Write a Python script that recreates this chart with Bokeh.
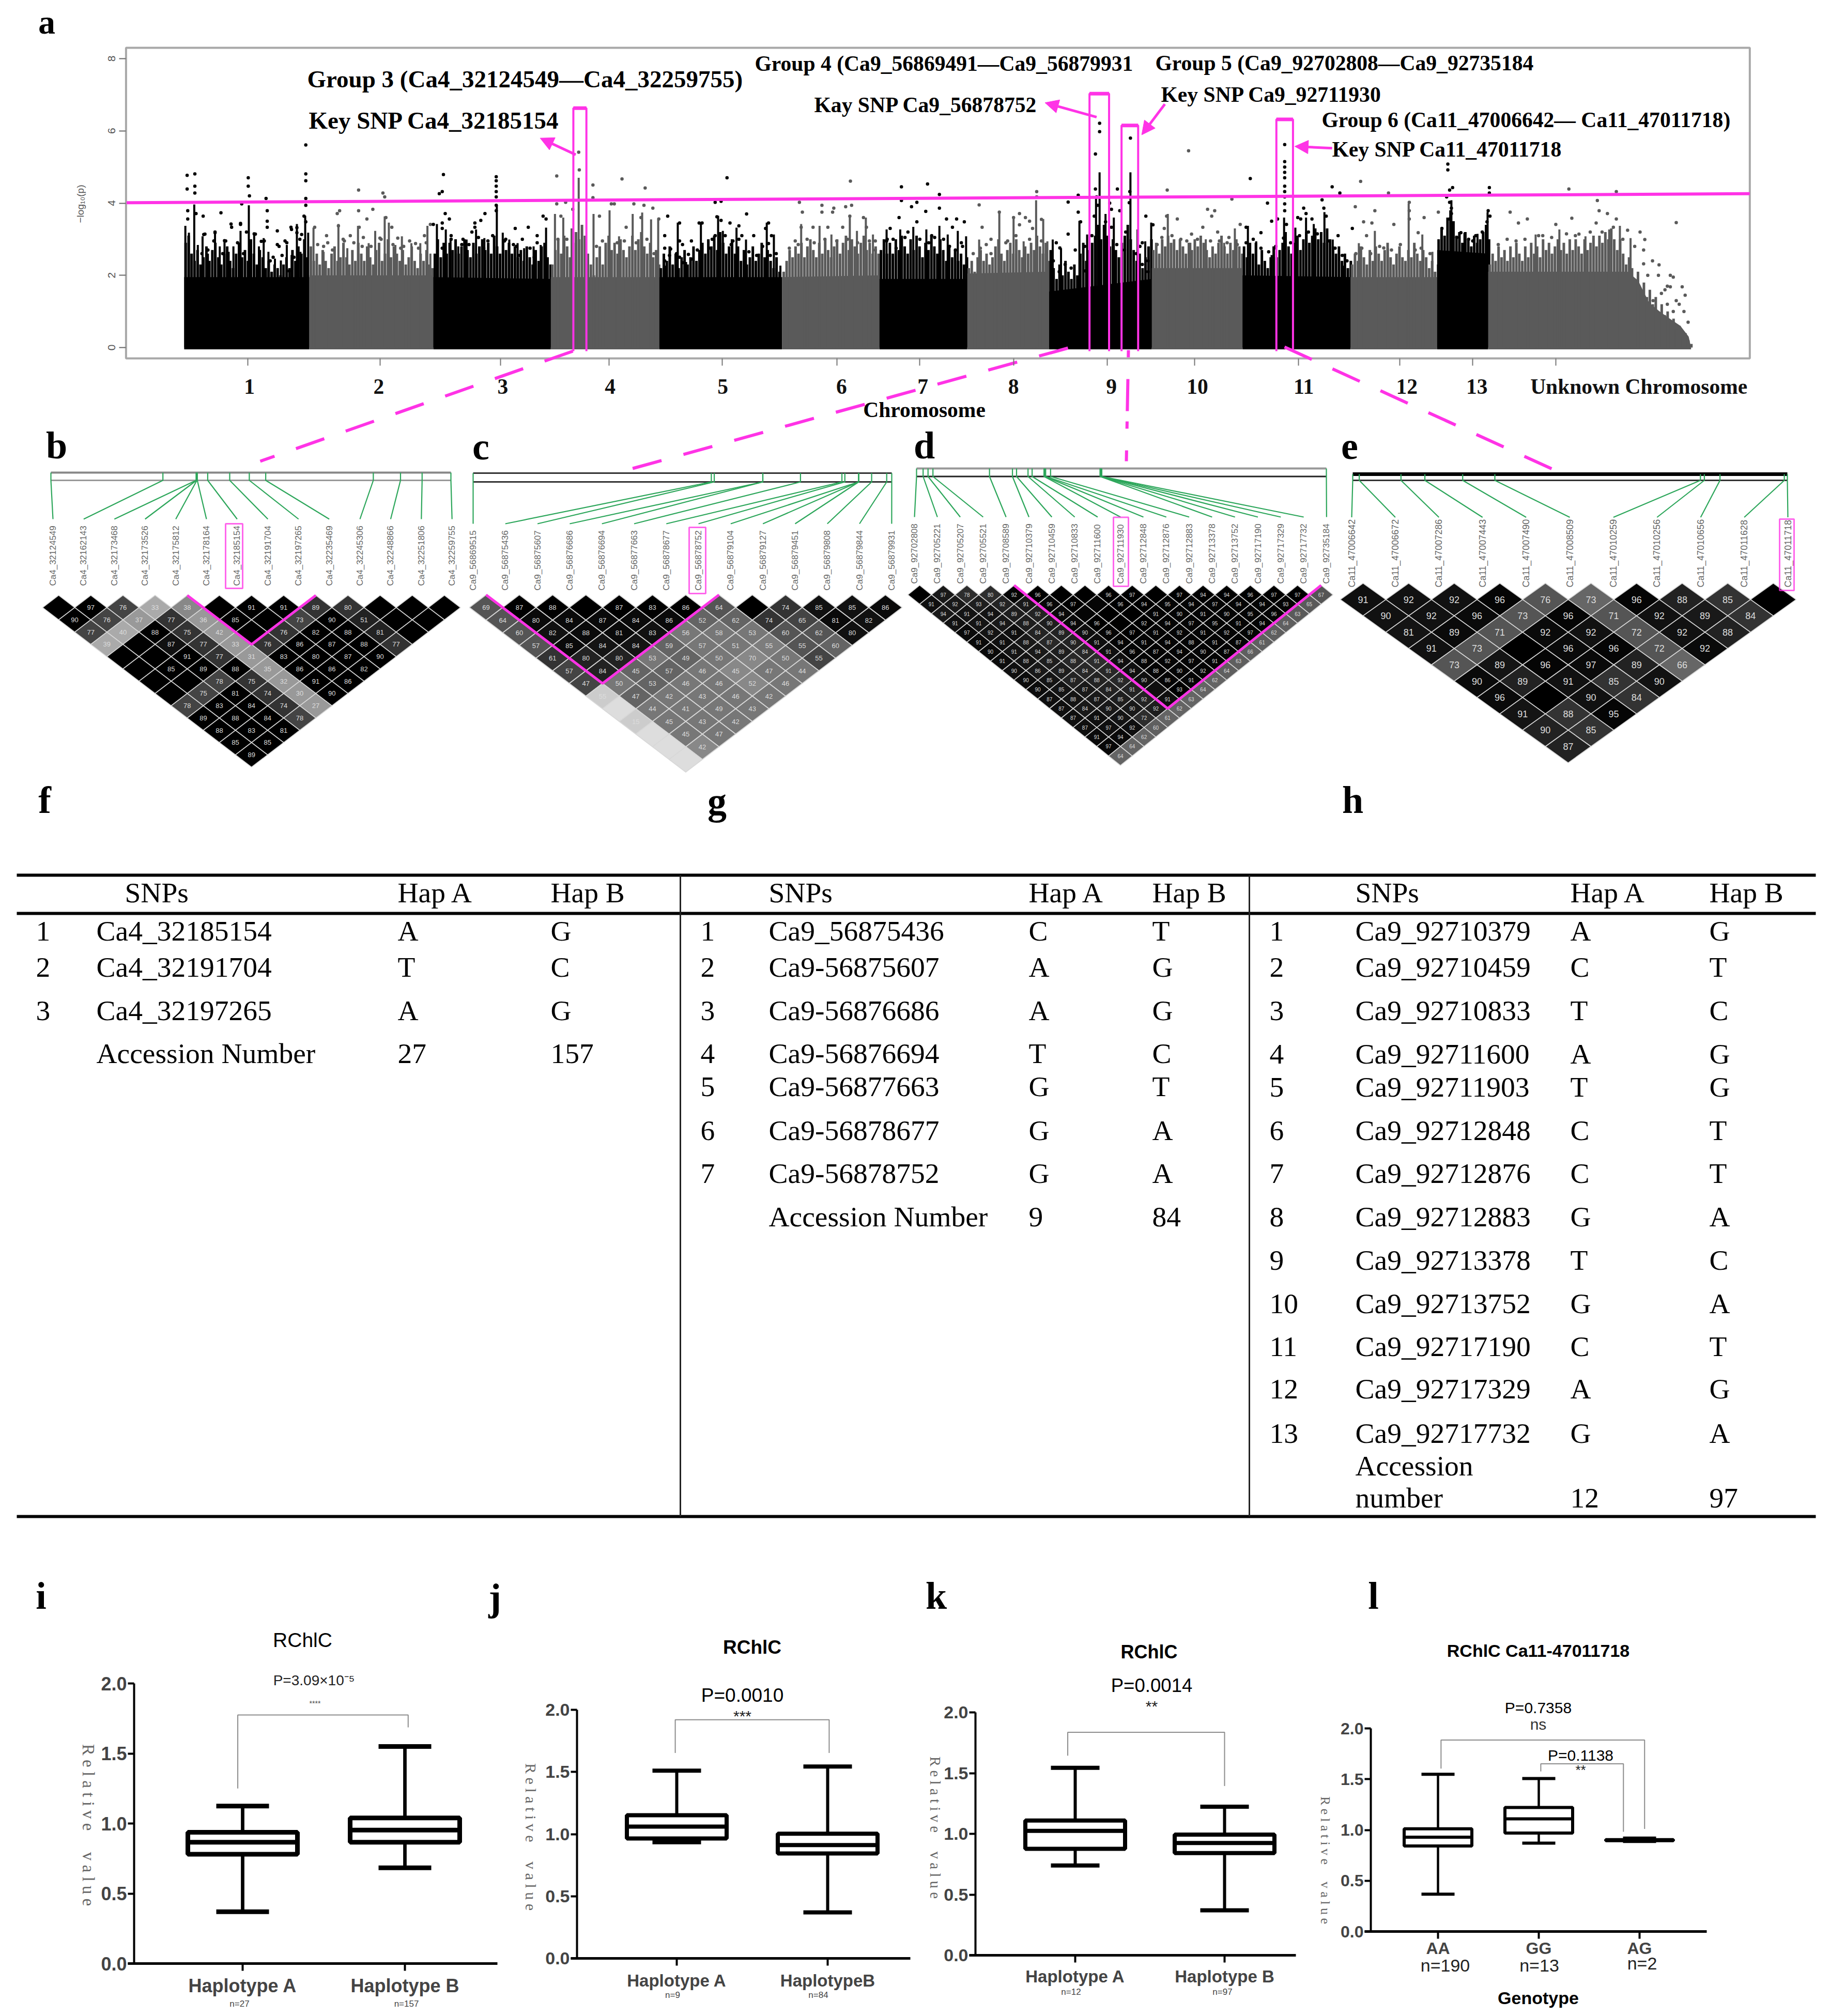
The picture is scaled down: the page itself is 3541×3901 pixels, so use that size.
from bokeh.plotting import figure
from bokeh.embed import file_html
from bokeh.resources import INLINE
from bokeh.core.properties import value
from bokeh.models import Range1d, LinearAxis, FixedTicker, NumeralTickFormatter, Arrow, NormalHead
import math

# ---------- Manhattan (a): cumulative position, -log10(p) ----------
chrom_names = ["1","2","3","4","5","6","7","8","9","10","11","12","13","Unknown Chromosome"]
chrom_ticks = [417,640,843,1026,1217,1410,1550,1708,1866,2013,2188,2359,2482,2622]
chrom_label_pos = [420,638,847,1028,1218,1418,1555,1708,1873,2018,2197,2371,2489,2762]
threshold_x = [212,2949]
threshold_y = [4.01,4.26]

# solid floor of each chromosome block
chr1_tx=[310,521];   chr1_ty=[1.95,1.95]
chr2_tx=[521,730];   chr2_ty=[2.0,2.0]
chr3_tx=[730,928];   chr3_ty=[1.95,1.9]
chr4_tx=[928,1111];  chr4_ty=[1.95,1.95]
chr5_tx=[1111,1318]; chr5_ty=[1.95,1.95]
chr6_tx=[1318,1482]; chr6_ty=[1.95,2.0]
chr7_tx=[1482,1630]; chr7_ty=[1.9,1.9]
chr8_tx=[1630,1768]; chr8_ty=[2.05,2.1]
chr9_tx=[1768,1941]; chr9_ty=[1.55,1.9]
chr10_tx=[1941,2094];chr10_ty=[2.2,2.2]
chr11_tx=[2094,2276];chr11_ty=[2.0,1.95]
chr12_tx=[2276,2422];chr12_ty=[1.95,1.95]
chr13_tx=[2422,2508];chr13_ty=[2.7,2.6]
chrU_tx=[2508,2743,2761,2779,2797,2814,2832,2846,2850]
chrU_ty=[2.1,2.1,1.85,1.25,1.0,.8,.6,.3,0]

# upper fringe of each block: one height per 5-position bin
chr1_fy=[2.9,3.1,2.6,2.4,2.7,2.3,2.5,2.8,2.4,2.7,2.9,2.5,2.3,2.6,2.8,2.4,2.2,2.6,2.9,2.5,2.7,2.4,3.0,2.6,2.3,2.7,2.5,2.2,2.4,2.1,2.3,2.2,2.0,2.3,2.5,2.2,2.7,2.4,2.8,2.6,3.0,2.5]
chr2_fy=[2.8,2.4,2.6,2.3,2.7,2.4,2.2,2.6,2.8,2.4,2.5,2.9,2.5,2.3,2.7,2.4,2.9,2.6,2.4,2.8,2.5,2.3,2.7,2.9,2.4,2.6,3.0,2.5,2.8,2.6,2.4,2.7,2.3,2.5,2.8,2.4,2.2,2.6,2.4,2.7,2.3,2.2]
chr3_fy=[2.6,3.0,2.5,2.9,2.6,2.9,2.7,3.0,2.6,2.8,3.0,2.7,2.5,2.9,2.6,2.8,3.0,2.7,2.9,2.6,3.1,2.8,2.6,3.0,2.7,2.9,2.6,2.8,2.5,2.7,2.4,2.8,2.5,2.3,2.7,2.4,2.8,2.9,2.5,2.3]
chr4_fy=[2.3,2.7,3.0,2.6,3.1,2.8,2.5,2.9,3.2,3.0,3.4,3.1,2.6,2.3,2.0,2.5,2.8,2.3,2.9,3.1,2.7,2.9,2.6,3.0,2.7,2.5,2.8,3.1,2.7,3.0,3.2,2.8,2.6,2.9,2.5,2.7,2.3]
chr5_fy=[2.2,2.6,2.4,2.8,2.3,2.6,2.2,2.5,2.7,2.3,2.5,2.8,2.4,2.7,2.9,2.6,3.0,2.8,3.1,2.7,3.2,2.9,2.6,2.8,3.0,2.6,2.8,2.4,2.7,2.3,2.5,2.8,2.4,2.6,2.9,2.5,2.7,2.4,2.2,2.5,2.1]
chr6_fy=[2.1,2.4,2.7,2.5,2.8,2.6,2.9,2.5,2.8,3.0,2.7,2.5,2.9,2.6,3.0,2.7,2.5,2.8,3.0,2.6,2.9,3.1,2.7,3.0,2.8,2.6,2.9,3.1,2.7,2.9,2.6,2.8,2.6]
chr7_fy=[2.7,3.0,2.6,2.9,2.6,3.0,2.7,3.1,2.8,2.6,3.0,2.7,3.1,2.8,2.5,2.9,2.7,3.1,2.8,2.6,3.0,2.7,2.4,2.8,2.5,2.7,2.4,2.6,2.3,2.5]
chr8_fy=[2.2,2.4,2.1,2.5,2.7,2.4,2.6,2.3,2.5,2.8,3.0,2.6,2.4,2.7,2.9,2.6,3.0,2.7,2.5,2.8,2.6,2.9,2.7,3.1,2.8,2.6,2.9,2.4]
chr9_fy=[2.7,2.2,1.9,2.3,2.0,2.4,2.1,1.9,2.3,2.0,2.6,2.9,2.4,2.7,2.9,3.1,3.4,3.0,3.4,3.1,2.8,3.0,2.7,2.5,2.9,3.1,3.4,3.0,2.7,2.4,2.6,2.2,2.5,2.8,3.0]
chr10_fy=[2.7,2.9,2.6,3.0,2.8,3.1,2.9,3.0,2.7,3.0,2.8,2.6,2.9,2.7,3.0,2.8,3.1,2.9,2.7,2.5,2.8,2.6,2.9,3.1,2.8,2.6,2.9,2.7,3.0,2.8,2.6]
chr11_fy=[2.8,2.5,2.9,2.6,2.9,2.3,2.7,2.4,2.2,2.5,2.8,2.5,2.7,2.9,3.2,2.8,2.6,2.9,3.1,2.7,3.0,3.2,2.9,3.1,3.3,3.0,3.2,2.9,3.3,3.0,2.8,2.6,2.8,2.4,2.6,2.2,2.4]
chr12_fy=[2.3,2.6,2.4,2.8,2.5,2.3,2.7,2.4,2.8,2.6,2.4,2.7,2.9,2.5,2.3,2.6,2.8,2.5,2.4,2.7,2.5,2.9,2.6,2.4,2.7,2.5,2.2,2.4,2.1,2.3]
chr13_fy=[3.0,3.3,3.1,3.6,3.8,3.5,3.1,3.2,2.9,3.2,3.0,2.8,3.1,2.9,3.0,3.2,3.4,3.0]
chrU_fy=[2.3,2.6,2.4,2.8,2.5,2.7,2.4,2.8,2.5,2.9,2.6,2.4,2.8,2.5,2.9,2.6,2.8,2.5,3.0,2.7,2.9,2.6,2.8,3.0,2.7,2.9,2.6,3.0,2.7,3.0,2.8,2.6,3.0,2.7,2.9,3.1,2.8,3.1,2.9,3.2,3.0,3.3,3.0,2.7,3.0,2.6,2.3,2.5,2.2,1.9,2.1,1.6,1.8,1.4,1.6,1.2,1.4,1.0,1.2,.9,1.0,.7,.8,.5,.6,.3,.4,.2,.1]

chr1_sx=[312,318,327,333,341,350,362,370,378,385,393,405,419,428,436,444,452,463,473,483,491,500,506,514,519]
chr1_sy=[3.37,3.18,3.96,2.84,3.08,2.6,3.23,2.8,2.99,2.65,2.8,3.23,3.94,3.18,2.8,3.03,2.65,2.46,2.41,2.84,2.56,3.42,2.65,3.65,3.18]
chr1_px=[315,328,315,328,328,316,316,330,342,372,407,418,418,420,448,450,450,515,515,515,515,515,512,515,405,390,450,445,490,500,480,345,362,360,380,430,470,487,340,375,400,415,460,505,343,362,378,389,405,428,440,467,467,483,491,500,508,350,410,455,475,495]
chr1_py=[4.77,4.81,4.39,4.47,4.28,3.79,3.56,3.71,3.64,3.73,3.98,4.70,4.47,4.20,4.13,3.79,3.50,5.61,4.81,4.62,4.13,3.94,3.64,3.48,3.41,3.33,3.33,2.95,3.33,3.18,2.95,3.14,3.18,2.95,2.95,3.14,2.80,2.12,2.6,2.6,2.9,3.2,2.5,3.0,3.13,3.2,2.96,3.42,3.44,3.15,2.94,3.23,2.85,2.9,3.27,3.32,3.13,2.7,2.6,2.4,2.55,2.5]
chr2_sx=[528,545,570,585,603,621,632,648,655,666,677,693,708,720,725]
chr2_sy=[3.32,2.65,3.42,2.75,3.37,2.89,3.23,3.63,3.46,2.84,3.08,2.89,2.89,3.37,2.6]
chr2_px=[604,645,648,572,568,604,628,650,618,570,605,590,640,660,700,715,725,545,530,680,610,580,550,670,535,552,560,578,596,612,625,642,662,675,690,705,718]
chr2_py=[4.36,4.28,4.17,3.79,3.71,3.79,3.83,3.6,3.56,3.37,3.33,3.1,3.03,3.33,2.88,3.1,3.41,2.8,3.33,2.8,2.8,2.95,3.1,3.03,2.85,2.9,2.7,3.0,2.9,3.05,2.8,3.0,2.85,2.75,2.95,2.75,2.9]
chr3_sx=[736,751,759,772,786,802,816,837,847,858,872,883,899,911,920]
chr3_sy=[3.42,3.27,3.03,2.8,2.99,3.27,3.03,3.94,3.18,2.99,2.89,2.75,2.8,2.84,3.32]
chr3_px=[747,745,740,836,836,836,836,836,836,836,817,750,757,745,800,810,800,868,890,915,920,905,760,780,850,870,730,745,760,778,795,806,822,830,852,865,880,893,905,745,790,815,875,900]
chr3_py=[4.79,4.32,4.26,4.73,4.62,4.47,4.32,4.17,3.94,3.79,3.71,3.71,3.56,3.45,3.45,3.52,3.33,3.3,3.33,3.64,3.56,3.1,3.1,3.0,2.95,2.8,3.41,3.3,3.0,2.85,3.2,3.05,2.95,3.1,3.0,2.85,3.0,2.75,2.9,2.75,2.85,2.75,2.55,2.5]
chr4_sx=[935,949,963,975,1000,1027,1043,1066,1082,1097,1109]
chr4_sy=[3.7,3.6,3.3,4.7,3.7,3.8,3.08,3.7,3.74,3.55,3.55]
chr4_px=[938,975,976,999,999,1048,1087,938,953,1030,1068,1085,1100,1035,1010,1080,1110,1055,945,965,940,955,1005,1015,1040,1052,1072,1090,1102]
chr4_py=[4.75,5.41,4.92,4.5,4.15,4.67,4.42,3.98,4.02,3.98,3.98,3.94,3.86,3.98,3.64,3.6,3.56,3.33,3.64,3.83,3.0,3.0,2.8,2.95,2.9,2.95,2.9,3.0,2.6]
chr5_sx=[1121,1142,1156,1181,1210,1218,1241,1257,1292,1304,1315]
chr5_sy=[2.27,3.46,2.37,3.46,3.65,3.23,3.32,2.99,3.46,3.13,2.27]
chr5_px=[1225,1205,1215,1258,1125,1208,1215,1230,1178,1183,1145,1245,1295,1290,1120,1145,1205,1250,1300,1295,1165,1130,1160,1235,1270,1150,1120,1120,1128,1140,1150,1165,1175,1195,1200,1222,1232,1245,1262,1275,1285,1298,1308,1120,1145]
chr5_py=[4.70,4.02,4.05,3.70,3.64,3.62,3.52,3.45,3.45,3.45,3.45,3.37,3.45,3.3,3.1,2.95,3.1,3.1,3.1,2.88,2.95,2.73,2.58,2.95,3.1,2.35,2.2,2.75,2.55,2.6,2.85,2.45,2.7,2.75,3.0,3.1,2.85,3.0,2.65,2.55,2.8,2.55,2.6,2.4,2.5]
chr6_sx=[1350,1381,1401,1432,1444,1459,1471]
chr6_sy=[3.42,3.37,3.13,3.65,3.23,3.6,3.13]
chr6_px=[1433,1347,1352,1385,1405,1425,1435,1385,1403,1432,1455,1350,1370,1395,1420,1460,1340,1475,1330,1345,1360,1372,1390,1410,1428,1445,1465,1475]
chr6_py=[4.61,4.02,3.75,3.94,3.86,3.9,3.94,3.75,3.75,3.64,3.6,3.33,3.33,3.33,3.33,3.33,2.95,2.95,2.75,2.85,3.0,2.9,3.0,2.95,3.0,2.9,2.95,2.7]
chr7_sx=[1494,1517,1539,1561,1583,1597,1614,1628]
chr7_sy=[3.27,3.27,3.34,3.27,3.37,3.13,3.23,3.08]
chr7_px=[1519,1519,1563,1545,1536,1560,1515,1545,1583,1583,1595,1605,1612,1625,1500,1530,1570,1590,1620,1495,1494,1505,1510,1525,1550,1565,1575,1600,1610,1622]
chr7_py=[4.45,4.07,4.53,4.02,3.90,3.77,3.60,3.48,4.24,3.86,3.56,3.33,3.56,3.48,3.3,3.2,3.1,3.0,2.9,3.0,2.95,3.0,2.75,3.05,3.0,2.9,3.05,2.8,2.7,2.8]
chr8_sx=[1650,1684,1708,1725,1746,1758,1765]
chr8_sy=[2.99,3.75,3.56,2.94,4.08,3.56,2.94]
chr8_px=[1650,1747,1747,1684,1718,1708,1755,1718,1655,1728,1670,1698,1740,1735,1640,1652,1662,1670,1695,1712,1735,1755]
chr8_py=[3.95,4.32,4.17,3.75,3.71,3.6,3.55,3.4,3.33,3.6,3.0,2.95,3.3,3.5,2.6,2.75,2.85,2.6,2.9,3.1,3.0,2.95]
chr9_sx=[1774,1788,1819,1832,1847,1853,1863,1877,1905,1917,1930,1940]
chr9_sy=[2.99,2.75,3.51,3.13,4.13,4.85,3.7,3.6,4.85,3.27,2.94,3.46]
chr9_px=[1853,1853,1846,1905,1883,1817,1800,1873,1887,1817,1821,1931,1800,1943,1863,1897,1846,1848,1850,1844,1904,1903,1786,1921,1935,1829,1873,1870,1775,1785,1795,1805,1812,1828,1840,1868,1882,1895,1915,1925,1935,1780,1925]
chr9_py=[6.21,5.98,5.36,5.80,4.39,4.22,4.03,3.83,3.79,3.75,3.48,3.64,3.14,3.4,3.48,3.2,4.39,4.17,3.94,3.64,4.32,4.01,2.76,2.8,2.4,2.12,3.33,4.0,2.4,2.1,2.3,2.2,2.7,2.8,3.1,2.9,2.85,2.7,2.6,2.3,2.1,2.9,2.9]
chr10_sx=[1968,2006,2032,2063,2081]
chr10_sy=[3.7,2.9,3.0,2.9,3.3]
chr10_px=[2003,1967,2076,2035,2047,1966,2027,1984,2042,2090,2008,2052,2071,1962,1950,1958,1975,1990,2000,2018,2040,2055,2068,2085]
chr10_py=[5.45,4.36,4.11,3.83,3.79,3.64,3.33,3.56,3.64,3.41,3.14,3.2,3.05,3.3,2.85,3.05,3.1,3.0,2.95,3.0,2.95,2.95,2.9,2.85]
chr11_sx=[2103,2117,2143,2164,2183,2201,2214,2232,2246,2263]
chr11_sy=[3.37,2.94,2.56,3.6,3.32,3.6,3.42,3.75,2.99,2.27]
chr11_px=[2165,2165,2165,2165,2165,2165,2165,2165,2165,2165,2107,2245,2258,2136,2228,2231,2197,2201,2235,2187,2143,2153,2211,2192,2100,2125,2255,2279,2168,2163,2148,2100,2112,2125,2138,2150,2175,2190,2205,2220,2240,2250,2262,2270,2105]
chr11_py=[5.62,5.15,5.0,4.85,4.7,4.47,4.32,4.17,3.98,3.79,4.68,4.45,4.28,4.0,4.09,3.86,3.86,3.71,3.64,3.6,3.5,3.56,3.56,3.56,3.33,3.18,3.1,3.3,3.41,3.03,2.76,2.9,3.0,2.75,2.65,2.8,2.9,3.1,3.2,3.15,2.95,2.75,2.55,2.4,2.6]
chr12_sx=[2290,2317,2339,2374,2397,2414]
chr12_sy=[2.89,3.23,2.75,3.99,3.13,2.65]
chr12_px=[2293,2340,2284,2317,2375,2375,2298,2312,2349,2400,2375,2424,2332,2390,2303,2285,2295,2310,2325,2345,2360,2385,2395,2410]
chr12_py=[4.6,4.28,3.9,3.79,4.02,3.79,3.48,3.45,3.41,3.6,3.56,3.75,2.76,3.18,3.1,2.6,2.75,2.6,2.8,2.7,2.85,2.7,2.75,2.6]
chr13_sx=[2446,2468,2490,2507]
chr13_sy=[4.08,3.18,3.15,3.75]
chr13_px=[2440,2440,2443,2448,2438,2443,2446,2446,2510,2510,2508,2511,2506,2443,2462,2487,2430,2455,2475,2482,2498]
chr13_py=[5.08,4.92,4.36,4.43,4.17,4.02,3.86,3.71,4.43,4.28,3.79,3.64,3.48,3.56,3.18,3.1,3.3,3.05,3.0,2.95,3.2]
chrU_sx=[2588,2628,2672,2712,2730,2748]
chrU_sy=[3.13,3.27,3.08,3.27,3.37,3.03]
chrU_px=[2644,2724,2692,2695,2709,2724,2649,2545,2825,2559,2574,2622,2690,2764,2772,2796,2770,2815,2820,2835,2815,2840,2777,2806,2825,2786,2593,2661,2719,2743,2525,2540,2555,2570,2600,2615,2640,2655,2680,2700,2735,2755,2770,2785,2795,2810,2800,2830,2838,2845,2810,2820]
chrU_py=[4.39,4.32,4.07,3.79,3.71,3.56,3.58,3.75,3.46,3.45,3.56,3.41,3.45,3.2,2.99,2.29,2.32,2.0,1.95,1.68,1.68,1.45,2.0,1.6,1.3,1.3,3.1,3.14,3.33,3.25,2.85,3.0,2.95,3.0,3.1,3.05,3.15,3.1,3.2,3.2,3.0,2.8,2.7,2.4,2.0,1.7,1.5,1.2,1.0,.7,1.2,1.0]

peak_box_left=[966,1836,1890,2151]
peak_box_right=[988,1869,1918,2179]
peak_box_top=[6.63,7.03,6.15,6.32]

# ---------- LD plots (b, c, d, e) ----------
b_labels=["Ca4_32124549","Ca4_32162143","Ca4_32173468","Ca4_32173526","Ca4_32175812","Ca4_32178164","Ca4_32185154","Ca4_32191704","Ca4_32197265","Ca4_32235469","Ca4_32245306","Ca4_32248866","Ca4_32251806","Ca4_32259755"]
b_phys=[0,.280,.363,.364,.365,.366,.392,.447,.496,.537,.806,.874,.928,1]
b_gray=[[0,0,68,170,136,0,0,0,51,51,0,0,0],[0,68,153,51,153,0,0,68,0,34,0,0],[68,170,0,51,153,0,51,0,0,34,0],[170,0,17,51,153,51,0,0,0,51],[0,0,0,51,153,0,0,0,0],[0,0,0,0,153,0,0,0],[0,0,68,51,153,0,0],[0,68,0,51,153,0],[68,0,0,51,153],[0,0,0,68],[0,0,0],[0,0],[0]]
b_val=[[0,97,76,33,38,0,91,91,89,80,0,0,0],[90,76,37,77,36,85,0,73,90,51,0,0],[77,40,88,75,42,0,76,82,88,81,0],[39,0,87,77,33,76,86,87,88,77],[0,0,91,77,31,83,80,87,90],[0,85,89,88,35,86,86,82],[0,0,78,75,32,91,86],[0,75,81,74,30,90],[78,83,84,74,27],[89,88,84,78],[88,83,81],[85,85],[89]]

c_labels=["Ca9_56869515","Ca9_56875436","Ca9_56875607","Ca9_56876686","Ca9_56876694","Ca9_56877663","Ca9_56878677","Ca9_56878752","Ca9_56879104","Ca9_56879127","Ca9_56879451","Ca9_56879808","Ca9_56879844","Ca9_56879931"]
c_phys=[0,.569,.576,.692,.692,.782,.881,.888,.921,.921,.921,.952,.988,1]
c_gray=[[85,0,0,0,0,0,0,85,0,51,17,17,10],[85,10,10,10,10,10,100,100,51,68,10,17],[85,17,10,10,17,119,119,119,85,85,17],[85,10,20,20,100,119,119,125,85,100],[51,34,34,119,100,119,136,119,68],[68,34,100,100,119,136,119,119],[68,119,100,119,119,136,119],[204,100,119,119,119,119],[221,119,119,119,119],[204,119,119,119],[221,119,119],[221,136],[221]]
c_val=[[69,87,88,0,87,83,86,64,0,74,85,85,86],[64,80,84,87,84,86,52,62,74,65,81,82],[60,82,88,81,83,56,58,53,60,62,80],[57,85,84,84,59,57,51,55,55,60],[61,80,80,53,49,50,70,50,55],[57,84,45,57,46,45,47,44],[47,50,53,46,46,52,46],[55,47,42,43,46,42],[19,44,41,49,43],[15,45,43,42],[7,45,47],[14,42],[40]]

d_labels=["Ca9_92702808","Ca9_92705221","Ca9_92705207","Ca9_92705521","Ca9_92708589","Ca9_92710379","Ca9_92710459","Ca9_92710833","Ca9_92711600","Ca9_92711930","Ca9_92712848","Ca9_92712876","Ca9_92712883","Ca9_92713378","Ca9_92713752","Ca9_92717190","Ca9_92717329","Ca9_92717732","Ca9_92735184"]
d_phys=[0,.016,.028,.040,.178,.234,.244,.272,.282,.311,.313,.315,.327,.448,.448,.450,.450,.452,1]
d_gray=[
[0,25,45,45,5,0,0,0,0,0,0,0,0,0,0,0,0,85],
[15,25,30,35,25,8,0,5,0,0,5,5,5,5,5,5,90],
[25,20,20,30,35,10,5,0,0,5,5,5,5,5,5,90],
[18,20,25,30,30,10,0,0,0,5,5,5,5,5,95],
[10,20,15,35,35,15,5,0,5,5,5,5,5,95],
[10,15,25,40,35,15,5,5,5,5,5,5,95],
[10,20,25,30,40,15,5,5,5,5,5,95],
[12,20,30,40,45,15,5,5,5,5,95],
[15,25,30,40,40,15,5,5,5,95],
[12,20,35,35,40,15,5,5,100],
[12,20,25,35,35,15,0,100],
[15,20,25,30,35,15,100],
[15,25,25,25,30,100],
[15,15,20,45,100],
[15,15,15,95],
[10,10,100],
[8,100],
[100]]
d_val=[
[0,97,78,80,92,96,0,0,96,97,0,97,94,94,96,97,97,67],
[91,92,93,92,91,96,97,0,96,94,95,94,97,94,94,93,65],
[94,91,94,89,92,94,0,0,0,91,90,91,90,95,96,63],
[91,91,94,88,90,94,96,0,92,94,97,95,91,94,64],
[97,92,91,84,89,90,96,97,91,92,91,92,97,62],
[91,91,88,87,90,91,94,91,94,88,91,87,61],
[90,91,94,89,84,91,96,87,94,90,87,66],
[91,88,85,88,91,94,88,92,97,91,63],
[90,86,89,84,91,94,88,90,92,64],
[90,85,87,88,92,90,86,91,62],
[90,85,87,84,91,0,93,64],
[87,88,87,85,92,91,63],
[87,84,90,90,92,62],
[87,91,90,72,61],
[87,97,92,60],
[91,94,62],
[97,64],
[64]]

e_labels=["Ca11_47006642","Ca11_47006672","Ca11_47007286","Ca11_47007443","Ca11_47007490","Ca11_47008509","Ca11_47010259","Ca11_47010256","Ca11_47010656","Ca11_47011628","Ca11_47011718"]
e_phys=[0,.015,.111,.166,.253,.327,.800,.809,.845,.993,1]
e_gray=[[15,17,17,5,85,102,5,34,51,0],[17,17,10,85,5,85,17,25,51],[20,10,85,10,17,85,17,34],[17,85,0,10,5,85,10],[85,20,5,10,34,102],[10,34,17,51,17],[10,0,17,51],[20,51,5],[34,51],[34]]
e_val=[[91,92,92,96,76,73,96,88,85,0],[90,92,96,73,96,71,92,89,84],[81,89,71,92,92,72,92,88],[91,73,0,96,96,72,92],[73,89,96,97,89,66],[90,89,91,85,90],[96,0,90,84],[91,88,95],[90,85],[87]]

# ---------- Haplotype tables (f, g, h) ----------
table_header=["SNPs","Hap A","Hap B"]
f_snps=["Ca4_32185154","Ca4_32191704","Ca4_32197265","Accession Number"]
f_no=["1","2","3"]
f_a=["A","T","A","27"]
f_b=["G","C","G","157"]
g_snps=["Ca9_56875436","Ca9-56875607","Ca9-56876686","Ca9-56876694","Ca9-56877663","Ca9-56878677","Ca9-56878752","Accession Number"]
g_no=["1","2","3","4","5","6","7"]
g_a=["C","A","A","T","G","G","G","9"]
g_b=["T","G","G","C","T","A","A","84"]
h_snps=["Ca9_92710379","Ca9_92710459","Ca9_92710833","Ca9_92711600","Ca9_92711903","Ca9_92712848","Ca9_92712876","Ca9_92712883","Ca9_92713378","Ca9_92713752","Ca9_92717190","Ca9_92717329","Ca9_92717732","Accession","number"]
h_no=["1","2","3","4","5","6","7","8","9","10","11","12","13"]
h_a=["A","C","T","A","T","C","C","G","T","G","C","A","G","","12"]
h_b=["G","T","C","G","G","T","T","A","C","A","T","G","A","","97"]

# ---------- Box plots (i, j, k, l): whisker top, Q3, median, Q1, whisker low ----------
i_names=["Haplotype A","Haplotype B"]
i_top=[1.125,1.55]; i_q3=[.937,1.04]; i_med=[.866,.953]; i_q1=[.78,.866]; i_low=[.37,.684]
j_names=["Haplotype A","HaplotypeB"]
j_top=[1.51,1.544]; j_q3=[1.152,1.003]; j_med=[1.06,.912]; j_q1=[.965,.844]; j_low=[.935,.37]
k_names=["Haplotype A","Haplotype B"]
k_top=[1.544,1.223]; k_q3=[1.11,.994]; k_med=[1.025,.924]; k_q1=[.877,.842]; k_low=[.739,.37]
l_names=["AA","GG","AG"]
l_top=[1.548,1.506,.92]; l_q3=[1.012,1.222,.905]; l_med=[.929,1.11,.9]; l_q1=[.842,.97,.895]; l_low=[.368,.87,.887]

MAG="#ff33e6"; SERIF="Liberation Serif"; SANS="Liberation Sans"; GREEN="#2ca65a"
PX0,PX1,PY0,PY1=0,3525,0,3885

p=figure(width=PX1-PX0,height=PY1-PY0,x_range=Range1d(PX0,PX1),y_range=Range1d(PY1,PY0),
         x_axis_type=None,y_axis_type=None,toolbar_location=None,output_backend="svg",
         min_border=0,outline_line_color=None)
p.grid.visible=False

def xrange_(name,v0,px0,v1,px1):
    s=(v1-v0)/(px1-px0)
    p.extra_x_ranges[name]=Range1d(v0+(PX0-px0)*s,v0+(PX1-px0)*s)
def yrange_(name,v0,px0,v1,px1):
    s=(v1-v0)/(px1-px0)
    p.extra_y_ranges[name]=Range1d(v0+(PY1-px0)*s,v0+(PY0-px0)*s)

def txt(xs,ys,texts,size,font=SERIF,style="normal",color="black",align="left",baseline="middle",angle=0,xr="default",yr="default"):
    p.text(x=xs,y=ys,text=texts,text_font=value(font),text_font_size=f"{size}px",text_font_style=style,
           text_color=color,text_align=align,text_baseline=baseline,angle=angle,x_range_name=xr,y_range_name=yr)

# ===== a: Manhattan =====
xrange_("mx",0,0,1568,1800); yrange_("my",0,672,8,113)
M=dict(x_range_name="mx",y_range_name="my")
p.quad(left=[212],right=[2949],bottom=[-0.3],top=[8.3],fill_color=None,line_color="#a8a8a8",line_width=4,**M)
chroms=[(chr1_tx,chr1_ty,chr1_fy,chr1_sx,chr1_sy,chr1_px,chr1_py),(chr2_tx,chr2_ty,chr2_fy,chr2_sx,chr2_sy,chr2_px,chr2_py),(chr3_tx,chr3_ty,chr3_fy,chr3_sx,chr3_sy,chr3_px,chr3_py),
        (chr4_tx,chr4_ty,chr4_fy,chr4_sx,chr4_sy,chr4_px,chr4_py),(chr5_tx,chr5_ty,chr5_fy,chr5_sx,chr5_sy,chr5_px,chr5_py),(chr6_tx,chr6_ty,chr6_fy,chr6_sx,chr6_sy,chr6_px,chr6_py),
        (chr7_tx,chr7_ty,chr7_fy,chr7_sx,chr7_sy,chr7_px,chr7_py),(chr8_tx,chr8_ty,chr8_fy,chr8_sx,chr8_sy,chr8_px,chr8_py),(chr9_tx,chr9_ty,chr9_fy,chr9_sx,chr9_sy,chr9_px,chr9_py),
        (chr10_tx,chr10_ty,chr10_fy,chr10_sx,chr10_sy,chr10_px,chr10_py),(chr11_tx,chr11_ty,chr11_fy,chr11_sx,chr11_sy,chr11_px,chr11_py),(chr12_tx,chr12_ty,chr12_fy,chr12_sx,chr12_sy,chr12_px,chr12_py),
        (chr13_tx,chr13_ty,chr13_fy,chr13_sx,chr13_sy,chr13_px,chr13_py),(chrU_tx,chrU_ty,chrU_fy,chrU_sx,chrU_sy,chrU_px,chrU_py)]
for idx,(tx,ty,fy_,sx,sy,px_,py_) in enumerate(chroms):
    col="#000000" if idx in (0,2,4,6,8,10,12) else "#5a5a5a"
    p.varea(x=tx,y1=[-0.05]*len(tx),y2=ty,fill_color=col,**M)
    fx=[tx[0]+2.5+5*k for k in range(len(fy_))]
    p.segment(x0=fx,y0=[0]*len(fx),x1=fx,y1=fy_,line_color=col,line_width=5,**M)
    p.segment(x0=sx,y0=[0]*len(sx),x1=sx,y1=sy,line_color=col,line_width=4,**M)
    p.scatter(x=px_,y=py_,size=6.5,marker="circle",fill_color=col,line_color=None,**M)
p.line(x=threshold_x,y=threshold_y,line_color=MAG,line_width=6,**M)
for l,r,t in zip(peak_box_left,peak_box_right,peak_box_top):
    p.multi_line(xs=[[l,l,r,r]],ys=[[-0.1,t,t,-0.1]],line_color=MAG,line_width=4,**M)
    p.line(x=[l,r],y=[t,t],line_color=MAG,line_width=7,**M)
for xs,ys,xe,ye in [(970,5.34,910,5.80),(1848,6.38,1761,6.78),(1963,6.74,1924,5.89),(2245,5.52,2182,5.57)]:
    p.add_layout(Arrow(end=NormalHead(size=26,fill_color=MAG,line_color=MAG),x_start=xs,y_start=ys,x_end=xe,y_end=ye,
                       line_color=MAG,line_width=5,x_range_name="mx",y_range_name="my"))
ax=LinearAxis(fixed_location=212,bounds=(0,8),ticker=FixedTicker(ticks=[0,2,4,6,8]),major_tick_out=13,major_tick_in=0,minor_tick_line_color=None,
              major_tick_line_color="#666666",major_tick_line_width=2,axis_line_color="#a8a8a8",axis_line_width=3,
              major_label_orientation="vertical",major_label_text_font=SANS,major_label_text_font_size="21px",major_label_text_color="#555555",major_label_standoff=8,**M)
p.add_layout(ax,"left")
ax=LinearAxis(fixed_location=-0.3,ticker=FixedTicker(ticks=chrom_ticks),major_tick_out=14,major_tick_in=0,minor_tick_line_color=None,
              major_tick_line_color="#777777",major_tick_line_width=2,axis_line_color=None,major_label_text_font_size="0px",**M)
p.add_layout(ax,"below")
ax=LinearAxis(fixed_location=-0.3,ticker=FixedTicker(ticks=chrom_label_pos),major_tick_line_color=None,minor_tick_line_color=None,axis_line_color=None,
              major_label_overrides=dict(zip(chrom_label_pos,chrom_names)),major_label_text_font=SERIF,major_label_text_font_style="bold",
              major_label_text_font_size="41.5px",major_label_text_color="#111111",major_label_standoff=26,**M)
p.add_layout(ax,"below")
txt([1788],[792],["Chromosome"],41.5,style="bold",align="center")
txt([155],[394],["−log₁₀(p)"],19,font=SANS,color="#555555",align="center",angle=math.pi/2)
txt([594],[152],["Group 3 (Ca4_32124549—Ca4_32259755)"],47,style="bold")
txt([597],[232],["Key SNP Ca4_32185154"],47,style="bold")
txt([1460],[122],["Group 4 (Ca9_56869491—Ca9_56879931"],41.6,style="bold")
txt([1575],[202],["Kay SNP Ca9_56878752"],41.6,style="bold")
txt([2235],[121],["Group 5 (Ca9_92702808—Ca9_92735184"],41.6,style="bold")
txt([2246],[182],["Key SNP Ca9_92711930"],41.6,style="bold")
txt([2557],[231],["Group 6 (Ca11_47006642— Ca11_47011718)"],41.6,style="bold")
txt([2577],[288],["Key SNP Ca11_47011718"],41.6,style="bold")

# ===== panel letters =====
txt([90],[42],["a"],66,style="bold",align="center")
for lab,x,y in [("b",109,861),("c",930,863),("d",1788,861),("e",2611,863),("f",86,1547),("g",1387,1550),("h",2617,1547),
                ("i",79,3087),("j",957,3090),("k",1811,3087),("l",2657,3087)]:
    txt([x],[y],[lab],74,style="bold",align="center")

# ===== b-e: LD =====
def ld(name,labels,phys,gray,val,x0,dx,top,dy,font,lx0,ldx,lab_bottom,conn_end,bar,bar_col,key,tri,lab_size):
    xrange_(name+"x",0,x0,1,x0+dx); yrange_(name+"y",0,top+dy,1,top+2*dy)
    L=dict(x_range_name=name+"x",y_range_name=name+"y")
    xs,ys,cols,tx,ty,tv=[],[],[],[],[],[]
    for r,(gr,vr) in enumerate(zip(gray,val)):
        for c,(g,v) in enumerate(zip(gr,vr)):
            cx=c+r/2
            xs.append([cx-.5,cx,cx+.5,cx]); ys.append([r,r-1,r,r+1])
            cols.append("#%02x%02x%02x"%(g,g,g))
            if v: tx.append(cx); ty.append(r); tv.append(str(v))
    p.patches(xs=xs,ys=ys,fill_color=cols,line_color="#d8d8d8",line_width=1.6,**L)
    txt(tx,ty,tv,font,font=SANS,color="#dddddd",align="center",xr=name+"x",yr=name+"y")
    if tri:
        p.line(x=tri[0],y=tri[1],line_color=MAG,line_width=5,**L)
    bl,br,bt,bb=bar
    p.line(x=[bl,br],y=[bt,bt],line_color=bar_col[0],line_width=bar_col[2])
    p.line(x=[bl,br],y=[bb,bb],line_color=bar_col[1],line_width=3)
    lx=[lx0+i*ldx for i in range(len(labels))]
    mx=[[bl+f*(br-bl),bl+f*(br-bl),t] for f,t in zip(phys,lx)]
    my=[[bt,bb,conn_end] for _ in lx]
    p.multi_line(xs=mx,ys=my,line_color=GREEN,line_width=2.2)
    txt(lx,[lab_bottom]*len(lx),labels,lab_size,font=SANS,color="#666666",angle=math.pi/2)
    k=key
    p.quad(left=[k[0]],right=[k[1]],top=[k[2]],bottom=[k[3]],fill_color=None,line_color=MAG,line_width=3,alpha=.75)

ld("b",b_labels,b_phys,b_gray,b_val,113,62.2,1151.4,23.75,13,102,59.4,1133,1004,(98,872,914,929),("#888888","#999999",4),(436,469,1013,1138),([4,6,8],[-1,3,-1]),17)
ld("c",c_labels,c_phys,c_gray,c_val,940,64.4,1150.5,24.5,13,915,62.3,1142,1013,(915,1725,915,932),("#333333","#333333",3),(1333,1365,1020,1148),([0,3.5,7],[-1,6,-1]),17)
ld("d",d_labels,d_phys,d_gray,d_val,1779,45.7,1132,18.35,10,1769,44.3,1129,1000,(1773,2566,906,921.5),("#999999","#222222",4),(2154,2183,1000.5,1134),([4,10.5,17],[-1,12,-1]),17)
ld("e",e_labels,e_phys,e_gray,e_val,2637,88.2,1128,31.6,18,2615,84.4,1136,1000.5,(2617,3458,917,929),("#000000","#333333",7),(3443,3471,1004,1142),None,18)

# connectors
DASH="58 44"
p.line(x=[1108,503],y=[679,892],line_color=MAG,line_width=6,line_dash=DASH)
p.line(x=[2066,1211],y=[673,909.5],line_color=MAG,line_width=6,line_dash=DASH)
p.line(x=[2183,2179],y=[677,892],line_color=MAG,line_width=6,line_dash="14 42 62 20")
p.line(x=[2485,3005],y=[671,908],line_color=MAG,line_width=6,line_dash=DASH)

# ===== f-h: tables =====
p.multi_line(xs=[[32,3513],[32,3513],[32,3513]],ys=[[1693,1693],[1767,1767],[2934,2934]],line_color="black",line_width=6)
p.multi_line(xs=[[1316,1316],[2417,2417]],ys=[[1693,2934],[1693,2934]],line_color="#222222",line_width=3)
HDR=1727
TS=55.5
txt([241,769,1065],[HDR]*3,table_header,TS)
txt([1487,1990,2229],[HDR]*3,table_header,TS)
txt([2622,3038,3307],[HDR]*3,table_header,TS)
fy=[1801,1871,1955,2038]
gy=[1801,1871,1955,2038,2102,2187,2270,2354]
hy=[1801,1871,1955,2039,2103,2187,2270,2354,2438,2522,2605,2687,2773,2836,2898]
for no,sn,a,b,ys,xn,xs_,xa,xb in [(f_no,f_snps,f_a,f_b,fy,69,186,769,1065),(g_no,g_snps,g_a,g_b,gy,1355,1487,1990,2229),(h_no,h_snps,h_a,h_b,hy,2456,2622,3038,3307)]:
    txt([xn]*len(no),ys[:len(no)],no,TS)
    txt([xs_]*len(sn),ys,sn,TS)
    txt([xa]*len(a),ys,a,TS)
    txt([xb]*len(b),ys,b,TS)

# ===== i-l: box plots =====
def boxp(name,names,top,q3,med,q1,low,cpx,y2,y0,spine,xend,boxw,capw,lw,lab_font,tick_font,lab_stand):
    n=len(names); unit=(cpx[1]-cpx[0])
    xrange_(name+"x",1,cpx[0],2,cpx[1]); yrange_(name+"y",0,y0,2,y2)
    B=dict(x_range_name=name+"x",y_range_name=name+"y")
    cats=list(range(1,n+1))
    hb=boxw/2/unit; hc=capw/2/unit
    p.segment(x0=cats,y0=low,x1=cats,y1=top,line_color="black",line_width=lw*.75,**B)
    p.segment(x0=[c-hc for c in cats],y0=top,x1=[c+hc for c in cats],y1=top,line_color="black",line_width=lw,**B)
    p.segment(x0=[c-hc for c in cats],y0=low,x1=[c+hc for c in cats],y1=low,line_color="black",line_width=lw,**B)
    p.quad(left=[c-hb for c in cats],right=[c+hb for c in cats],top=q3,bottom=q1,fill_color="white",line_color="black",line_width=lw,**B)
    p.segment(x0=[c-hb for c in cats],y0=med,x1=[c+hb for c in cats],y1=med,line_color="black",line_width=lw,**B)
    sp=1+(spine-cpx[0])/unit; xl=1+(spine-12-cpx[0])/unit; xe=1+(xend-cpx[0])/unit
    ax=LinearAxis(fixed_location=sp,bounds=(0,2),ticker=FixedTicker(ticks=[0,.5,1,1.5,2]),formatter=NumeralTickFormatter(format="0.0"),
                  major_tick_out=12,major_tick_in=0,minor_tick_line_color=None,major_tick_line_width=4,axis_line_width=4,
                  major_label_text_font=SANS,major_label_text_font_style="bold",major_label_text_font_size=f"{tick_font}px",major_label_standoff=2,**B)
    p.add_layout(ax,"left")
    ax=LinearAxis(fixed_location=0,bounds=(xl,xe),ticker=FixedTicker(ticks=cats),major_label_overrides=dict(zip(cats,names)),
                  major_tick_out=14,major_tick_in=0,minor_tick_line_color=None,major_tick_line_width=4,axis_line_width=5,
                  major_label_text_font=SANS,major_label_text_font_style="bold",major_label_text_font_size=f"{lab_font}px",major_label_standoff=lab_stand,**B)
    p.add_layout(ax,"below")
    return B,name+"x",name+"y"

def bracket(B,x,y):
    p.line(x=x,y=y,line_color="#8c8c8c",line_width=2,**B)

RV="R e l a t i v e \u00a0 \u00a0 v a l u e"
B,_,_=boxp("i",i_names,i_top,i_q3,i_med,i_q1,i_low,[469,783],3257,3799,259,962,212,102,9,36,36,8)
bracket(B,[.97,.97,2.02,2.02],[1.25,1.775,1.775,1.686])
txt([585],[3173],["RChlC"],39,font=SANS,align="center")
txt([607],[3251],["P=3.09×10⁻⁵"],28,font=SANS,color="#222222",align="center")
txt([609],[3295],["****"],14,font=SANS,color="#444444",align="center")
txt([463,786],[3877,3877],["n=27","n=157"],17,font=SANS,color="#444444",align="center")
txt([170],[3531],[RV],33,color="#666666",align="center",angle=-math.pi/2)

B,_,_=boxp("j",j_names,j_top,j_q3,j_med,j_q1,j_low,[1309,1601],3308,3789,1116,1761,193,94,8,33,34,10)
bracket(B,[.99,.99,2.01,2.01],[1.653,1.92,1.92,1.653])
txt([1455],[3187],["RChlC"],37,font=SANS,style="bold",align="center")
txt([1436],[3280],["P=0.0010"],37,font=SANS,align="center")
txt([1436],[3320],["***"],30,font=SANS,color="#222222",align="center")
txt([1301,1583],[3860,3860],["n=9","n=84"],17,font=SANS,color="#444444",align="center")
txt([1027],[3554],[RV],30,color="#666666",align="center",angle=-math.pi/2)

B,_,_=boxp("k",k_names,k_top,k_q3,k_med,k_q1,k_low,[2080,2369],3313,3783,1887,2507,193,94,8,33,34,8)
bracket(B,[.95,.95,2,2],[1.644,1.836,1.836,1.394])
txt([2223],[3196],["RChlC"],36,font=SANS,style="bold",align="center")
txt([2228],[3261],["P=0.0014"],36.6,font=SANS,align="center")
txt([2228],[3301],["**"],30,font=SANS,color="#222222",align="center")
txt([2072,2365],[3854,3854],["n=12","n=97"],17,font=SANS,color="#444444",align="center")
txt([1809],[3536],[RV],29,color="#666666",align="center",angle=-math.pi/2)

B,_,_=boxp("l",l_names,l_top,l_q3,l_med,l_q1,l_low,[2782,2977],3344,3737,2652,3302,131,64,6,32,32,0)
bracket(B,[1.03,1.03,3.05,3.05],[1.604,1.886,1.886,1.01])
bracket(B,[2.02,2.02,2.84,2.84],[1.576,1.651,1.651,.982])
txt([2976],[3193],["RChlC Ca11-47011718"],34,font=SANS,style="bold",align="center")
txt([2976],[3304],["P=0.7358"],30,font=SANS,align="center")
txt([2976],[3336],["ns"],30,font=SANS,color="#333333",align="center")
txt([3058],[3396],["P=0.1138"],30,font=SANS,align="center")
txt([3058],[3424],["**"],26,font=SANS,color="#222222",align="center")
txt([2796,2978,3177],[3802,3802,3798],["n=190","n=13","n=2"],34,font=SANS,color="#222222",align="center")
txt([2976],[3865],["Genotype"],34,font=SANS,style="bold",align="center")
txt([2564],[3599],[RV],26,color="#666666",align="center",angle=-math.pi/2)

open("out.html","w").write(file_html(p,INLINE))
